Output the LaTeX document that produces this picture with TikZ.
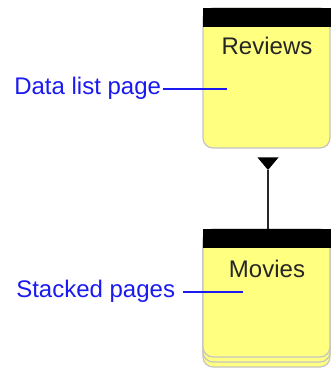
\documentclass[tikz,border=0pt]{standalone}
\usepackage{fontspec}
\setmainfont{Liberation Sans}
\definecolor{pageyellow}{HTML}{FFFF80}
\definecolor{pageedge}{HTML}{C4C4C4}
\definecolor{labelblue}{HTML}{1A1AF0}
\tikzset{
  pagebody/.style={fill=pageyellow, draw=pageedge, line width=0.9pt, rounded corners=7.5pt},
  pagehead/.style={fill=black},
  titletext/.style={font=\fontsize{18}{20}\selectfont, text=black!85, inner sep=0pt, anchor=base},
  labeltext/.style={font=\fontsize{18}{20}\selectfont, text=labelblue, inner sep=0pt, anchor=base west},
  leader/.style={draw=labelblue, line width=1.1pt},
  link/.style={draw=black!85, line width=1.5pt}
}
\begin{document}
\begin{tikzpicture}[x=0.75pt,y=-0.75pt]
\useasboundingbox (0,0) rectangle (331,373);
% Reviews page
\path[pagebody] (203,8) rectangle (330,148);
\fill[pagehead] (202.5,8) rectangle (330.5,27);
\node[titletext] (reviews) at (267,55) {Reviews};
% Movies stacked pages
\path[pagebody] (203,236) rectangle (330,367);
\path[pagebody] (203,233) rectangle (330,362);
\path[pagebody] (203,229) rectangle (330,357);
\fill[pagehead] (202.5,229) rectangle (330.5,248);
\node[titletext] (movies) at (267,277) {Movies};
% connector with arrowhead
\coordinate (movTop) at (268,229);
\coordinate (triTip) at (268,170);
\fill[black] (257.5,157.5) -- (278.5,157.5) -- (triTip) -- cycle;
\draw[link] (movTop) -- (triTip);
% labels
\node[labeltext] (datalabel) at (14,95) {Data list page};
\coordinate (dlEnd) at (227,89);
\draw[leader] ([xshift=1.5pt]datalabel.east |- dlEnd) -- (dlEnd);
\node[labeltext] (stacklabel) at (16,297) {Stacked pages};
\coordinate (spEnd) at (243,292);
\draw[leader] ([xshift=6pt]stacklabel.east |- spEnd) -- (spEnd);
\end{tikzpicture}
\end{document}
